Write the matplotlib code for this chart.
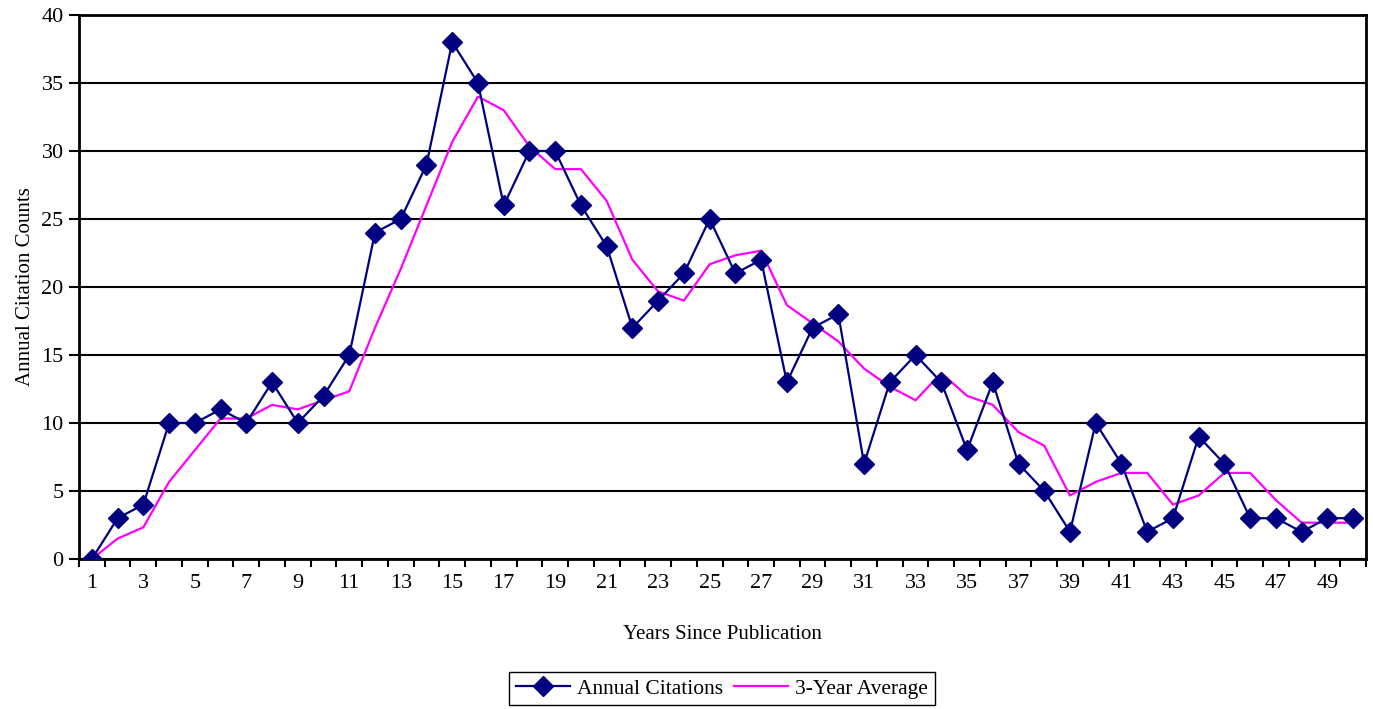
#!/usr/bin/env python3

import numpy as np
import matplotlib.pyplot as plt

plt.rcParams['font.family'] = ['Liberation Serif', 'DejaVu Serif']

years = np.arange(1, 51)
annual = [0, 3, 4, 10, 10, 11, 10, 13, 10, 12,
          15, 24, 25, 29, 38, 35, 26, 30, 30, 26,
          23, 17, 19, 21, 25, 21, 22, 13, 17, 18,
          7, 13, 15, 13, 8, 13, 7, 5, 2, 10,
          7, 2, 3, 9, 7, 3, 3, 2, 3, 3]
avg3 = [0, 1.5, 2.33, 5.67, 8, 10.33, 10.33, 11.33, 11, 11.67,
        12.33, 17, 21.33, 26, 30.67, 34, 33, 30.33, 28.67, 28.67,
        26.33, 22, 19.67, 19, 21.67, 22.33, 22.67, 18.67, 17.33, 16,
        14, 12.67, 11.67, 13.67, 12, 11.33, 9.33, 8.33, 4.67, 5.67,
        6.33, 6.33, 4, 4.67, 6.33, 6.33, 4.33, 2.67, 2.67, 2.67]


def main():
    fig = plt.figure(figsize=(13.73, 7.09), dpi=100)
    ax = fig.add_axes([79 / 1373, 150 / 709, 1287 / 1373, 544 / 709])

    ax.plot(years, annual, color='#000080', lw=1.6, marker='D',
            markersize=10, label='Annual Citations', zorder=3)
    ax.plot(years, avg3, color='#ff00ff', lw=1.6, label='3-Year Average', zorder=2)

    ax.set_xlim(0.5, 50.5)
    ax.set_ylim(0, 40)
    ax.set_yticks(np.arange(0, 41, 5))
    ax.yaxis.grid(True, color='black', lw=1.5)
    ax.set_axisbelow(True)

    # ticks between categories, labels on odd categories
    ax.set_xticks(np.arange(0.5, 51, 1))
    ax.set_xticklabels([])
    ax.set_xticks(years[::2], minor=True)
    ax.set_xticklabels([str(y) for y in years[::2]], minor=True)
    ax.tick_params(axis='x', which='minor', length=0, pad=11, labelsize=16)
    ax.tick_params(axis='x', which='major', length=6, width=1.5, direction='out')
    ax.tick_params(axis='y', length=7, width=1.5, labelsize=16, pad=4)

    for s in ax.spines.values():
        s.set_linewidth(2)
        s.set_color('black')

    ax.set_xlabel('Years Since Publication', fontsize=15, labelpad=23)
    ax.set_ylabel('Annual Citation Counts', fontsize=15, labelpad=5)

    leg = fig.legend(loc='lower center', bbox_to_anchor=(722 / 1373, 4 / 709), ncol=2,
                     fontsize=15.5, fancybox=False, edgecolor='black',
                     framealpha=1, handlelength=2.5, columnspacing=0.5,
                     borderpad=0.3, handletextpad=0.35, borderaxespad=0)
    leg.get_frame().set_linewidth(1)

    fig.savefig('out.png', dpi=100)


if __name__ == "__main__":
    main()
